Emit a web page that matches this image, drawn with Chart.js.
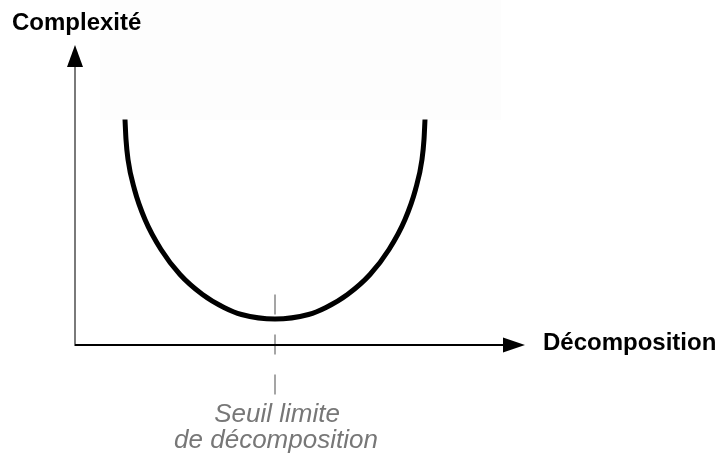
<!DOCTYPE html>
<html>
<head>
<meta charset="utf-8">
<script src="https://cdn.jsdelivr.net/npm/chart.js@4/dist/chart.umd.min.js"></script>
<style>
  html, body { margin: 0; padding: 0; background: #ffffff; }
  #wrap { width: 720px; height: 457px; position: relative; }
</style>
</head>
<body>
<div id="wrap"><canvas id="chart"></canvas></div>
<script>
// Curve (decomposition -> complexity, arbitrary units)
var curveX = [1.00, 1.02, 1.06, 1.19, 1.40, 1.72, 2.10, 2.55, 2.98, 3.33, 4.00,
              4.67, 5.02, 5.45, 5.90, 6.28, 6.60, 6.81, 6.94, 6.98, 7.00];
var curveY = [4.51, 4.11, 3.71, 3.11, 2.51, 1.91, 1.41, 1.01, 0.75, 0.61, 0.52,
              0.61, 0.75, 1.01, 1.41, 1.91, 2.51, 3.11, 3.71, 4.11, 4.51];

// Threshold marker (dashed vertical)
var thresholdX = [4.00, 4.00];
var thresholdY = [1.01, -0.99];

var axisX = { min: 0, max: 9 };
var axisY = { min: 0, max: 6 };

var yTitle = 'Complexité';
var xTitle = 'Décomposition';
var thresholdLabel = ['Seuil limite', 'de décomposition'];

function toPoints(xs, ys) {
    var pts = [];
    for (var i = 0; i < xs.length; i++) {
        pts.push({ x: xs[i], y: ys[i] });
    }
    return pts;
}

// faint backdrop + axes with arrow heads + labels
var decor = {
    id: 'decor',
    beforeDraw: function (chart) {
        var ctx = chart.ctx;
        ctx.save();
        ctx.fillStyle = '#fdfdfd';
        ctx.fillRect(100, 0, 401, 120);
        ctx.restore();
    },
    afterDraw: function (chart) {
        var ctx = chart.ctx;
        var sx = chart.scales.x, sy = chart.scales.y;
        var x0 = sx.getPixelForValue(0);
        var y0 = sy.getPixelForValue(0);
        var top = chart.chartArea.top;
        var right = chart.chartArea.right;

        ctx.save();
        // y axis
        ctx.strokeStyle = '#7a7a7a';
        ctx.lineWidth = 2;
        ctx.beginPath();
        ctx.moveTo(x0, y0 + 1);
        ctx.lineTo(x0, top + 20);
        ctx.stroke();
        ctx.fillStyle = '#000000';
        ctx.beginPath();
        ctx.moveTo(x0, top);
        ctx.lineTo(x0 - 8, top + 22);
        ctx.lineTo(x0 + 8, top + 22);
        ctx.closePath();
        ctx.fill();

        // x axis
        ctx.strokeStyle = '#000000';
        ctx.lineWidth = 2;
        ctx.beginPath();
        ctx.moveTo(x0, y0);
        ctx.lineTo(right - 20, y0);
        ctx.stroke();
        ctx.beginPath();
        ctx.moveTo(right, y0);
        ctx.lineTo(right - 22, y0 - 7.5);
        ctx.lineTo(right - 22, y0 + 7.5);
        ctx.closePath();
        ctx.fill();

        // titles
        ctx.fillStyle = '#000000';
        ctx.font = 'bold 24px "Liberation Sans", Arial, sans-serif';
        ctx.textAlign = 'left';
        ctx.textBaseline = 'alphabetic';
        ctx.fillText(yTitle, 12, 30);
        ctx.fillText(xTitle, right + 18, y0 + 5);

        // threshold label
        var tx = sx.getPixelForValue(thresholdX[0]);
        ctx.fillStyle = '#777777';
        ctx.font = 'italic 26px "Liberation Sans", Arial, sans-serif';
        ctx.textAlign = 'center';
        ctx.fillText(thresholdLabel[0], tx + 2, 422);
        ctx.fillText(thresholdLabel[1], tx + 1, 448);
        ctx.restore();
    }
};

new Chart(document.getElementById('chart'), {
    type: 'line',
    data: {
        datasets: [{
            data: toPoints(curveX, curveY),
            borderColor: '#000000',
            borderWidth: 5,
            pointRadius: 0,
            cubicInterpolationMode: 'monotone',
            fill: false
        }, {
            data: toPoints(thresholdX, thresholdY),
            borderColor: '#888888',
            borderWidth: 1.5,
            borderDash: [20, 20],
            pointRadius: 0,
            clip: false,
            fill: false
        }]
    },
    options: {
        responsive: true,
        maintainAspectRatio: false,
        animation: false,
        layout: { padding: { left: 75, right: 195, top: 45, bottom: 112 } },
        plugins: {
            legend: { display: false },
            tooltip: { enabled: false }
        },
        scales: {
            x: { type: 'linear', min: axisX.min, max: axisX.max, display: false },
            y: { type: 'linear', min: axisY.min, max: axisY.max, display: false }
        }
    },
    plugins: [decor]
});
</script>
</body>
</html>
